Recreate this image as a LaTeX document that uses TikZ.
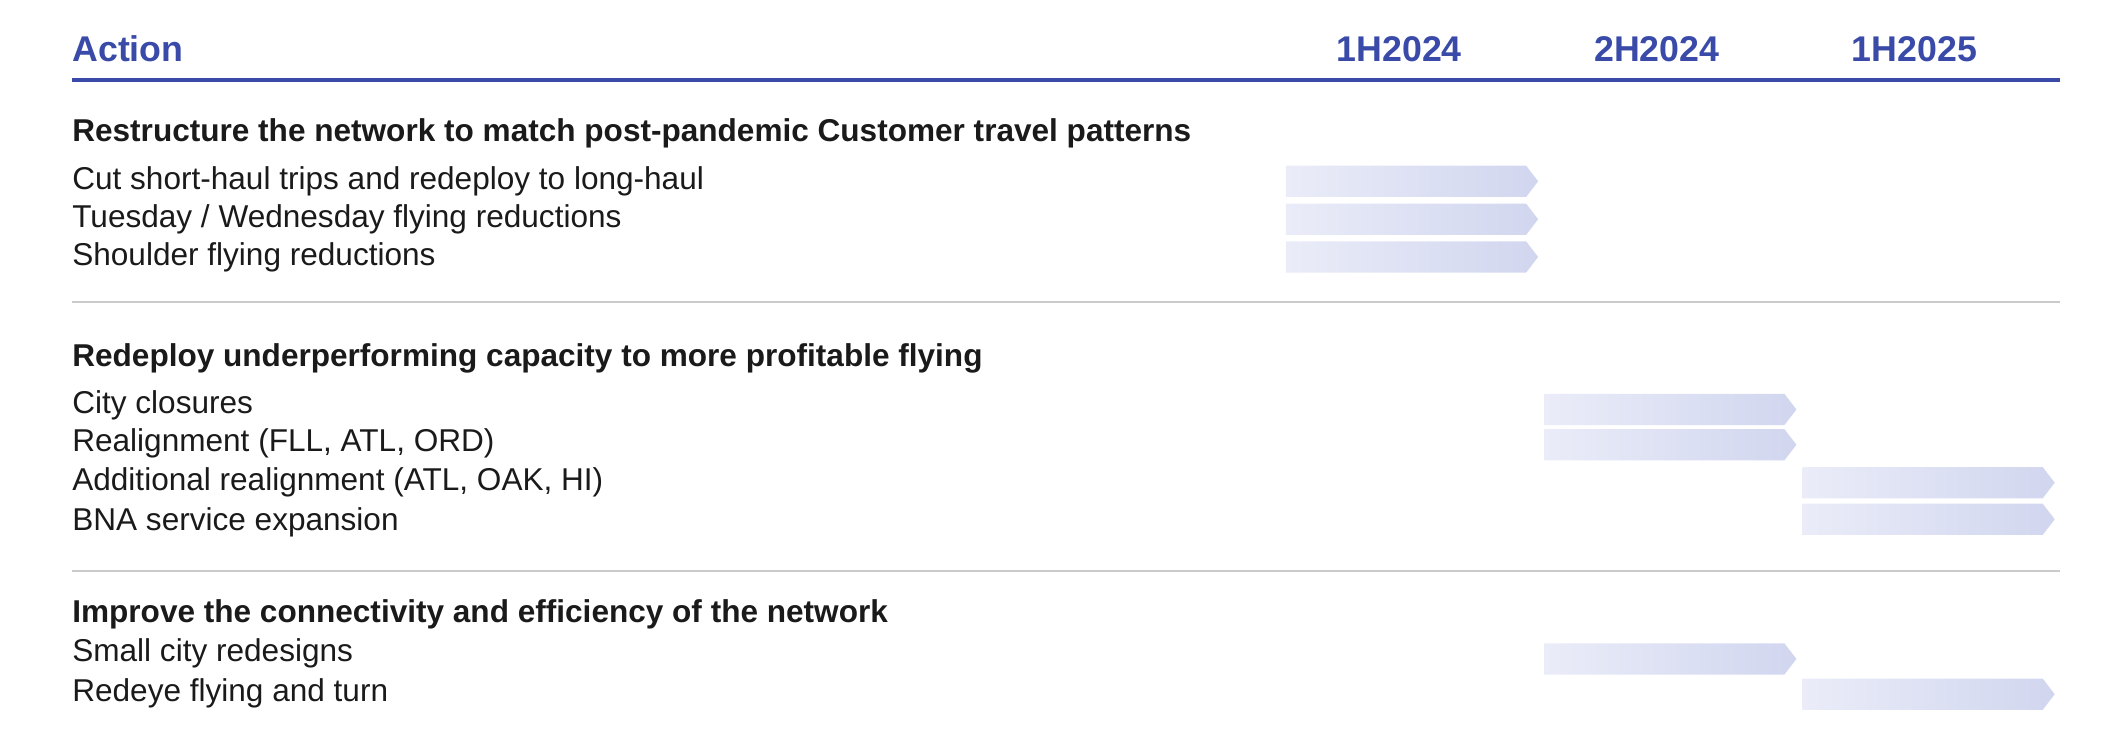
\documentclass[tikz,border=0pt]{standalone}
\usepackage{fontspec}
\setmainfont{Liberation Sans}
\usetikzlibrary{shapes.symbols}

\begin{document}
\begin{tikzpicture}[x=0.02cm,y=-0.02cm,
  head/.style={text=actionblue,inner sep=0pt,font=\fontsize{15}{18}\selectfont\bfseries},
  group/.style={anchor=base west,inner sep=0pt,text=inkblack,font=\fontsize{13.25}{16}\selectfont\bfseries},
  item/.style={anchor=base west,inner sep=0pt,text=inkblack,font=\fontsize{13.25}{16}\selectfont},
  bar/.style={signal,signal to=east,signal pointer angle=105,inner sep=0pt,
    minimum width=186*0.02cm,minimum height=23*0.02cm,left color=barlight,right color=bardark}]
\definecolor{actionblue}{HTML}{3A4AA8}
\definecolor{inkblack}{HTML}{1A1A1A}
\definecolor{rulegray}{HTML}{CACACA}
\definecolor{barlight}{HTML}{EAECF8}
\definecolor{bardark}{HTML}{D1D6EF}
\useasboundingbox (0,0) rectangle (1568,556);
\node[head,anchor=base west] (action) at (53,45) {Action};
\foreach \yr/\x [count=\i] in {1H2024/1032,2H2024/1222,1H2025/1412}
  {\node[head,anchor=base] (yr\i) at (\x,45) {\yr};}
\coordinate (hl) at (53,59);
\coordinate (hr) at (1519,59);
\draw[actionblue,line width=1.6pt] (hl) -- (hr);
\foreach \y [count=\i] in {223,421}
  {\coordinate (sl\i) at (53,\y);
   \coordinate (sr\i) at (1519,\y);
   \draw[rulegray,line width=0.8pt] (sl\i) -- (sr\i);}
\foreach \txt/\y [count=\i] in {{Restructure the network to match post-pandemic Customer travel patterns}/104,
    {Redeploy underperforming capacity to more profitable flying}/270,
    {Improve the connectivity and efficiency of the network}/459}
  {\node[group] (grp\i) at (53,\y) {\txt};}
\foreach \txt/\y [count=\i] in {{Cut short-haul trips and redeploy to long-haul}/139.5,
    {Tuesday / Wednesday flying reductions}/167.5,
    {Shoulder flying reductions}/196,
    {City closures}/305,
    {Realignment (FLL, ATL, ORD)}/333,
    {Additional realignment (ATL, OAK, HI)}/362,
    {BNA service expansion}/391,
    {Small city redesigns}/488,
    {Redeye flying and turn}/517}
  {\node[item] (act\i) at (53,\y) {\txt};}
\foreach \col/\y [count=\i] in {1/133.7,1/161.7,1/189.5,2/302,2/328,3/356,3/383,2/486,3/512}
  {\node[bar] (bar\i) at (948+190.5*\col-190.5+89,\y) {};}
\end{tikzpicture}
\end{document}
